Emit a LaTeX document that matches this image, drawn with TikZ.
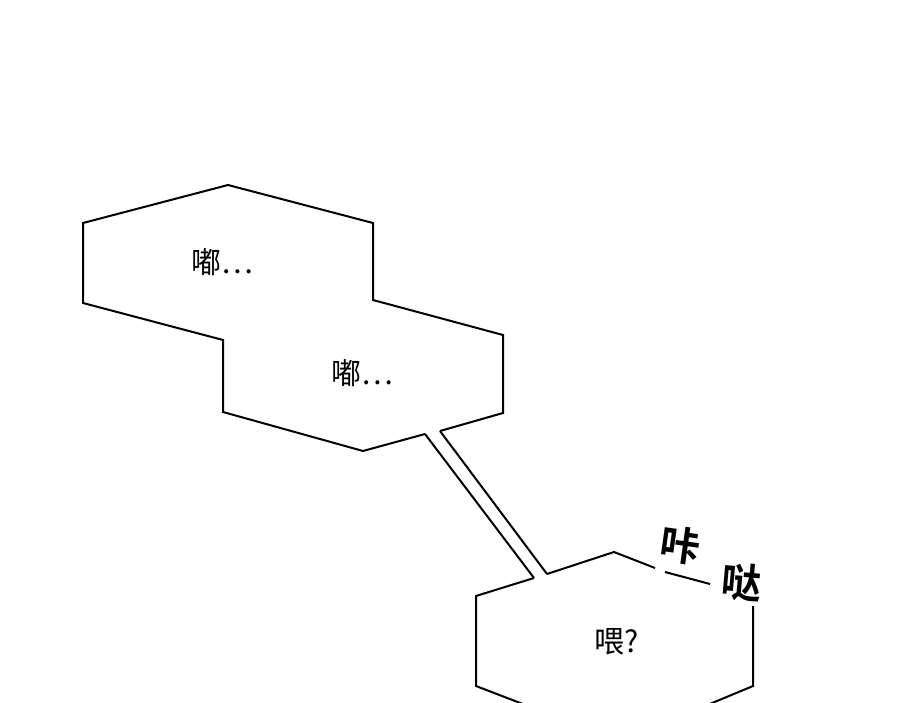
\documentclass[tikz,border=0pt]{standalone}
\usepackage{fontspec}
\newfontfamily\cjk{Noto Sans CJK SC}
\newfontfamily\cjkb{Noto Sans CJK SC Bold}
\begin{document}
\begin{tikzpicture}[x=1pt,y=-1pt,
  bub/.style={draw=black,line width=2pt,line join=miter},
  txt/.style={font=\cjk\fontsize{30}{32}\selectfont},
  sfx/.style={font=\cjkb\fontsize{40}{42}\selectfont}]
\useasboundingbox (0,0) rectangle (900,703);
\draw[bub] (440,431) -- (503,413) -- (503,335) -- (373,300) -- (373,223) -- (228,185) -- (83,223) -- (83,303) -- (223,340) -- (223,412) -- (363,451) -- (425,434);
\coordinate (c1) at (425,434); \coordinate (c2) at (534,578);
\coordinate (c3) at (440,431); \coordinate (c4) at (547,574);
\draw[bub] (c1) -- (c2); \draw[bub] (c3) -- (c4);
\draw[bub] (534,578) -- (476,596) -- (476,686) -- (528,706);
\draw[bub] (547,574) -- (614,552) -- (655,568);
\draw[bub] (665,572) -- (710,584);
\draw[bub] (753,606) -- (753,686) -- (705,706);
\node[txt] (t1) at (222,262) {嘟…};
\node[txt] (t2) at (362,373) {嘟…};
\node[txt] (t3) at (617,642) {喂?};
\node[sfx,rotate=-8] (s1) at (680,545) {咔};
\node[sfx,rotate=-5] (s2) at (742,582) {哒};
\end{tikzpicture}
\end{document}
